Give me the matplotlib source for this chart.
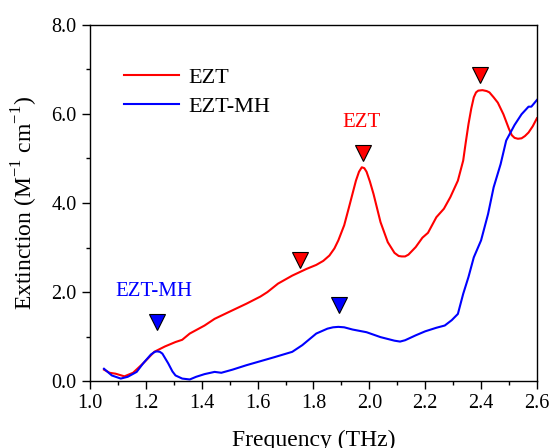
import matplotlib
matplotlib.use("Agg")
import matplotlib.pyplot as plt
from matplotlib.ticker import MultipleLocator

plt.rcParams['font.family'] = ['Liberation Serif', 'DejaVu Serif']
plt.rcParams['mathtext.fontset'] = 'custom'
plt.rcParams['mathtext.rm'] = 'Liberation Serif'

ezt_x = [1.05, 1.07, 1.091, 1.123, 1.154, 1.19, 1.23, 1.268, 1.306, 1.33, 1.357, 1.41, 1.446, 1.496, 1.56,
         1.61, 1.635, 1.673, 1.724, 1.775, 1.81, 1.835, 1.857, 1.875, 1.889, 1.91, 1.927, 1.952, 1.963,
         1.973, 1.982, 1.99, 2.002, 2.015, 2.04, 2.066, 2.09, 2.105, 2.116, 2.128, 2.14, 2.166, 2.19,
         2.21, 2.24, 2.267, 2.29, 2.317, 2.336, 2.345, 2.355, 2.365, 2.374, 2.382, 2.39, 2.405, 2.42,
         2.43, 2.445, 2.46, 2.48, 2.5, 2.51, 2.52, 2.532, 2.545, 2.557, 2.57, 2.585, 2.6]
ezt_y = [0.26, 0.19, 0.17, 0.11, 0.19, 0.40, 0.66, 0.78, 0.88, 0.93, 1.07, 1.25, 1.40, 1.55, 1.74,
         1.90, 2.00, 2.19, 2.37, 2.52, 2.61, 2.70, 2.82, 2.98, 3.16, 3.50, 3.90, 4.50, 4.70,
         4.80, 4.78, 4.70, 4.48, 4.20, 3.57, 3.12, 2.88, 2.81, 2.80, 2.80, 2.84, 3.01, 3.22,
         3.33, 3.68, 3.87, 4.13, 4.50, 4.95, 5.35, 5.77, 6.12, 6.37, 6.48, 6.52, 6.53, 6.51,
         6.48, 6.37, 6.25, 5.99, 5.66, 5.52, 5.46, 5.44, 5.45, 5.50, 5.58, 5.72, 5.90]

mh_x = [1.05, 1.078, 1.11, 1.135, 1.167, 1.19, 1.218, 1.232, 1.24, 1.25, 1.259, 1.28, 1.295, 1.306, 1.33,
        1.357, 1.38, 1.41, 1.446, 1.47, 1.51, 1.56, 1.61, 1.66, 1.724, 1.76, 1.81, 1.85, 1.87, 1.889,
        1.91, 1.94, 1.99, 2.04, 2.09, 2.11, 2.128, 2.166, 2.2, 2.24, 2.27, 2.295, 2.317, 2.336, 2.355,
        2.374, 2.4, 2.425, 2.445, 2.47, 2.49, 2.52, 2.545, 2.57, 2.58, 2.6]
mh_y = [0.28, 0.13, 0.06, 0.10, 0.21, 0.40, 0.60, 0.66, 0.67, 0.66, 0.62, 0.40, 0.22, 0.13, 0.06,
        0.04, 0.10, 0.16, 0.21, 0.19, 0.26, 0.36, 0.45, 0.54, 0.66, 0.81, 1.07, 1.18, 1.21, 1.22,
        1.21, 1.16, 1.10, 0.99, 0.91, 0.89, 0.92, 1.03, 1.12, 1.20, 1.25, 1.37, 1.51, 1.96, 2.34,
        2.78, 3.16, 3.75, 4.35, 4.87, 5.40, 5.75, 5.99, 6.16, 6.16, 6.31]

ezt_mark_x = [1.752, 1.977, 2.397]
ezt_mark_y = [2.71, 5.13, 6.87]
mh_mark_x = [1.238, 1.891]
mh_mark_y = [1.33, 1.72]

fig = plt.figure(figsize=(5.49, 4.48), dpi=100)
ax = fig.add_axes([0.164, 0.149, 0.814, 0.796])

ax.plot(ezt_x, ezt_y, color='#ff0000', lw=1.5, label='EZT')
ax.plot(mh_x, mh_y, color='#0000ff', lw=1.5, label='EZT-MH')
ax.plot(ezt_mark_x, ezt_mark_y, 'v', color='#ff0000', mec='black', mew=0.8, ms=11, ls='none')
ax.plot(mh_mark_x, mh_mark_y, 'v', color='#0000ff', mec='black', mew=0.8, ms=11, ls='none')

ax.text(1.973, 5.8, 'EZT', color='#ff0000', fontsize=15, ha='center', va='center')
ax.text(1.23, 2.02, 'EZT-MH', color='#0000ff', fontsize=15, ha='center', va='center')

ax.set_xlim(1.0, 2.6)
ax.set_ylim(0, 8.0)
ax.xaxis.set_major_locator(MultipleLocator(0.2))
ax.xaxis.set_minor_locator(MultipleLocator(0.1))
ax.yaxis.set_major_locator(MultipleLocator(2.0))
ax.yaxis.set_minor_locator(MultipleLocator(1.0))
ax.xaxis.set_major_formatter(plt.FormatStrFormatter('%.1f'))
ax.yaxis.set_major_formatter(plt.FormatStrFormatter('%.1f'))
ax.tick_params(which='major', direction='out', length=6, width=1, labelsize=14.5)
ax.tick_params(which='minor', direction='out', length=3, width=1)
for s in ax.spines.values():
    s.set_linewidth(1.0)

ax.set_xlabel('Frequency (THz)', fontsize=17, labelpad=12)
ax.set_ylabel('Extinction (M$^{-1}$ cm$^{-1}$)', fontsize=17, labelpad=8)

ax.legend(loc='upper left', bbox_to_anchor=(0.031, 0.937), frameon=False, fontsize=16,
          handlelength=2.5, handletextpad=0.4, labelspacing=0.38)

fig.savefig('out.png', dpi=100)
